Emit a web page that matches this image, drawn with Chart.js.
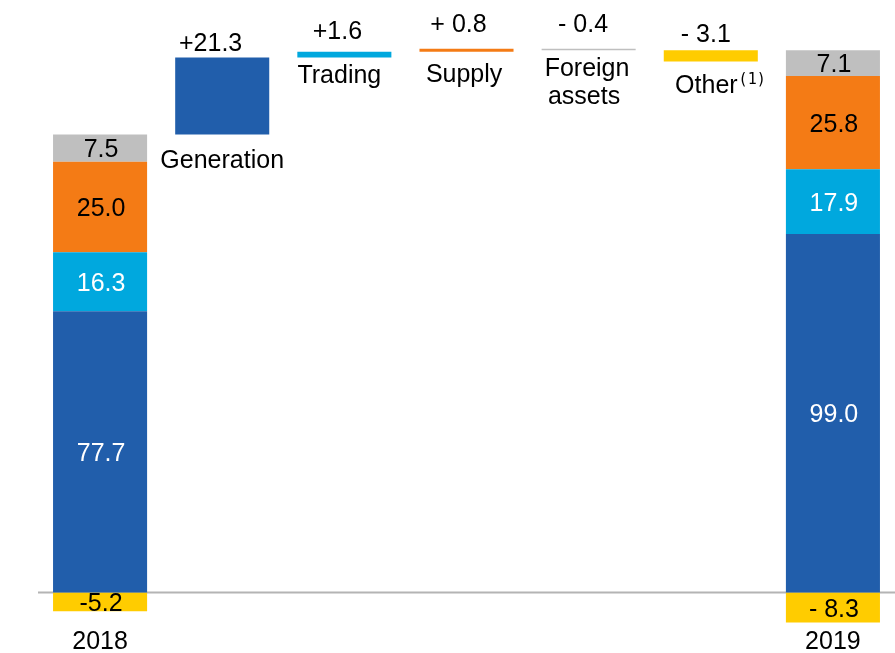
<!DOCTYPE html>
<html>
<head>
<meta charset="utf-8">
<script src="https://cdn.jsdelivr.net/npm/chart.js@4/dist/chart.umd.min.js"></script>
<style>
  html, body { margin: 0; padding: 0; background: #fff; }
  #wrap { width: 895px; height: 653px; position: relative; }
</style>
</head>
<body>
<div id="wrap"><canvas id="chart"></canvas></div>
<script>
// categories along the x axis
const categories = ["2018", "Generation", "Trading", "Supply", "Foreign assets", "Other", "2019"];

// segment order in the stacked bars: Generation, Trading, Supply, Foreign assets, Other
const values2018 = [77.7, 16.3, 25.0, 7.5, -5.2];
const values2019 = [99.0, 17.9, 25.8, 7.1, -8.3];
const labels2018 = ["77.7", "16.3", "25.0", "7.5", "-5.2"];
const labels2019 = ["99.0", "17.9", "25.8", "7.1", "- 8.3"];

// variations between the two years
const deltas = [21.3, 1.6, 0.8, -0.4, -3.1];
const deltaLabels = ["+21.3", "+1.6", "+ 0.8", "- 0.4", "- 3.1"];
const deltaNames = [["Generation"], ["Trading"], ["Supply"], ["Foreign", "assets"], ["Other"]];

const colors = ["#215EAB", "#00A8DE", "#F47B15", "#BFBFBF", "#FFCC00"];
const textColors = ["#fff", "#fff", "#000", "#000", "#000"];

// build floating ranges [from, to] for each segment dataset
function stackRanges(vals) {
  const out = [];
  let pos = 0;
  vals.forEach((v) => {
    if (v >= 0) { out.push([pos, pos + v]); pos += v; }
    else out.push([v, 0]);
  });
  return out;
}
const r2018 = stackRanges(values2018);
const r2019 = stackRanges(values2019);
const deltaRanges = [];
let running = values2018.filter((v) => v > 0).reduce((a, b) => a + b, 0);
deltas.forEach((d) => {
  deltaRanges.push([running, running + d]);
  running += d;
});

const datasets = colors.map((c, i) => {
  const data = categories.map(() => null);
  data[0] = r2018[i];
  data[i + 1] = deltaRanges[i];
  data[6] = r2019[i];
  return {
    label: categories[i + 1],
    data: data,
    backgroundColor: c,
    borderWidth: 0,
    barPercentage: 0.77,
    categoryPercentage: 1,
    grouped: false,
  };
});

const FONT = "25px 'Liberation Sans', Arial, sans-serif";

// offsets (px) of text relative to the floating bars
const valueOffX = [-11.6, -7, -8, -5.6, -5];
const valueOffY = [-6.5, -12.7, -16.8, -17, -8];
const nameOffX = [0, -5, -2.4, -1.6, 0];
const nameOffY = [33.5, 25.5, 30.3, 25.8, 31.8];

const textPlugin = {
  id: "texts",
  beforeDatasetsDraw(chart) {
    const ctx = chart.ctx;
    const y = chart.scales.y;
    const area = chart.chartArea;
    ctx.save();
    ctx.strokeStyle = "#B4B4B4";
    ctx.lineWidth = 2;
    ctx.beginPath();
    ctx.moveTo(area.left - 1, y.getPixelForValue(0));
    ctx.lineTo(chart.width, y.getPixelForValue(0));
    ctx.stroke();
    ctx.restore();
  },
  afterDatasetsDraw(chart) {
    const ctx = chart.ctx;
    const x = chart.scales.x;
    const y = chart.scales.y;
    ctx.save();
    ctx.font = FONT;
    ctx.textAlign = "center";
    ctx.textBaseline = "alphabetic";

    // labels inside the two stacked bars
    [[0, r2018, labels2018], [6, r2019, labels2019]].forEach(([idx, ranges, labels]) => {
      const cx = x.getPixelForValue(idx);
      ranges.forEach((r, i) => {
        const mid = (y.getPixelForValue(r[0]) + y.getPixelForValue(r[1])) / 2;
        ctx.fillStyle = textColors[i];
        ctx.fillText(labels[i], cx + 1, mid + 9);
      });
      ctx.fillStyle = "#000";
      ctx.fillText(categories[idx], cx, 649);
    });

    // labels for the variations
    deltaRanges.forEach((r, i) => {
      const cx = x.getPixelForValue(i + 1);
      const top = y.getPixelForValue(Math.max(r[0], r[1]));
      const bottom = y.getPixelForValue(Math.min(r[0], r[1]));
      ctx.fillStyle = "#000";
      ctx.textAlign = "center";
      ctx.font = FONT;
      ctx.fillText(deltaLabels[i], cx + valueOffX[i], top + valueOffY[i]);
      if (deltaNames[i][0] === "Other") {
        ctx.textAlign = "left";
        const left = cx - 35.7;
        ctx.fillText("Other", left, bottom + nameOffY[i]);
        const w = ctx.measureText("Other").width;
        ctx.font = "15px 'DejaVu Sans Mono', monospace";
        ctx.fillText("(1)", left + w + 1, bottom + nameOffY[i] - 9);
      } else {
        deltaNames[i].forEach((line, j) => {
          const dx = j === 1 ? -4.6 : nameOffX[i];
          ctx.fillText(line, cx + dx, bottom + nameOffY[i] + j * 28);
        });
      }
    });
    ctx.restore();
  },
};

new Chart(document.getElementById("chart"), {
  type: "bar",
  data: { labels: categories, datasets: datasets },
  options: {
    responsive: true,
    maintainAspectRatio: false,
    animation: false,
    layout: { padding: { left: 39, right: 1, top: 13.3, bottom: 24.3 } },
    plugins: { legend: { display: false }, tooltip: { enabled: false } },
    scales: {
      x: { display: false, stacked: true },
      y: { display: false, min: -10, max: 160 },
    },
  },
  plugins: [textPlugin],
});
</script>
</body>
</html>
